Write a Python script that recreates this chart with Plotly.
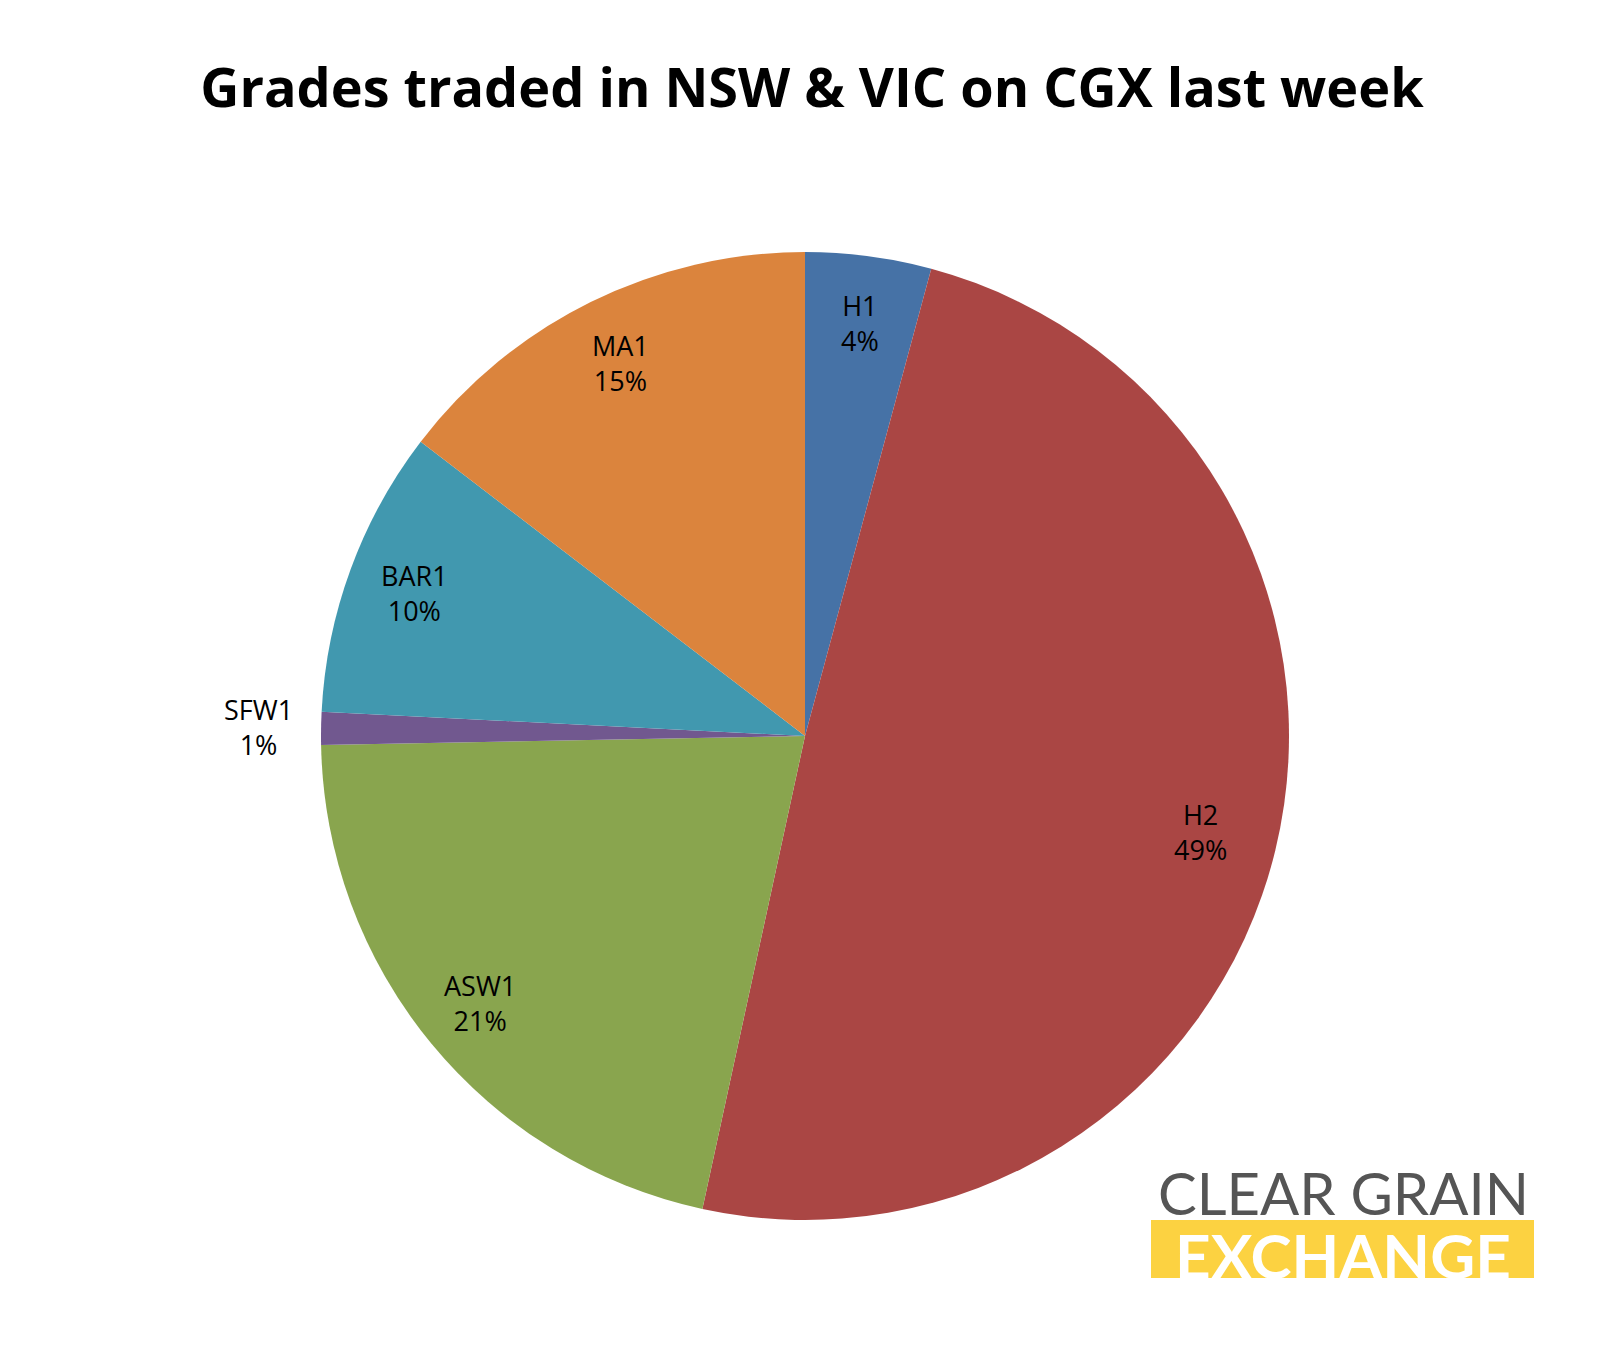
import math
import plotly.graph_objects as go

grades = ["H1", "H2", "ASW1", "SFW1", "BAR1", "MA1"]
shares = [4.2, 49.2, 21.3, 1.1, 9.6, 14.6]
colors = ["#4672A6", "#AA4644", "#89A54E", "#71588F", "#4198AF", "#DB843D"]
label_r = [0.86, 0.84, 0.87, 1.13, 0.86, 0.86]  # label distance, fraction of radius

W, H = 1608, 1350
cx, cy, R = 797, 728, 484  # pie centre / radius in px

fig = go.Figure(go.Pie(
    labels=grades,
    values=shares,
    sort=False,
    direction="clockwise",
    rotation=0,
    marker=dict(colors=colors, line=dict(width=0)),
    textinfo="none",
    domain=dict(x=[(cx - R) / W, (cx + R) / W], y=[1 - (cy + R) / H, 1 - (cy - R) / H]),
    showlegend=False,
    hoverinfo="label+percent",
))

# data labels placed like Excel, along the mid angle of each slice
total = sum(shares)
cum = 0
for g, v, lr in zip(grades, shares, label_r):
    mid = (cum + v / 2) / total * 2 * math.pi
    cum += v
    px_ = cx + lr * R * math.sin(mid)
    py_ = cy - lr * R * math.cos(mid)
    fig.add_annotation(text=f"{g}<br>{round(v / total * 100)}%", xref="paper", yref="paper",
                       x=px_ / W, y=1 - py_ / H, xanchor="center", yanchor="middle",
                       showarrow=False, font=dict(family="Open Sans", size=27, color="black"))

fig.update_layout(
    width=W, height=H,
    margin=dict(l=0, r=0, t=0, b=0),
    paper_bgcolor="white",
    font=dict(family="Open Sans"),
    title=dict(
        text="<b>Grades traded in NSW & VIC on CGX last week</b>",
        x=0.5, xanchor="center", y=1 - 80 / H, yanchor="middle",
        font=dict(family="Open Sans", size=54, color="black"),
    ),
)

# logo
fig.add_shape(type="rect", xref="paper", yref="paper", layer="below",
              x0=1143 / W, x1=1526 / W, y0=1 - 1270 / H, y1=1 - 1212 / H,
              fillcolor="#FCD241", line=dict(width=0))
fig.add_annotation(text="CLEAR GRAIN", xref="paper", yref="paper",
                   x=1335 / W, y=1 - 1184 / H, xanchor="center", yanchor="middle", showarrow=False,
                   font=dict(family="Lato", size=58, color="#555555"))
fig.add_annotation(text="<b>EXCHANGE</b>", xref="paper", yref="paper",
                   x=1335 / W, y=1 - 1247 / H, xanchor="center", yanchor="middle", showarrow=False,
                   font=dict(family="Lato", size=62, color="white"))

fig.write_html("out.html")
